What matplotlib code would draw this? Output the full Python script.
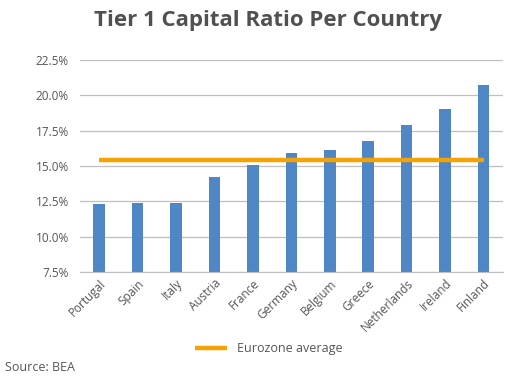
import matplotlib
matplotlib.use("Agg")
import matplotlib.pyplot as plt
from matplotlib.ticker import FuncFormatter

plt.rcParams['font.family'] = ['Open Sans', 'DejaVu Sans']

countries = ['Portugal', 'Spain', 'Italy', 'Austria', 'France', 'Germany',
             'Belgium', 'Greece', 'Netherlands', 'Ireland', 'Finland']
tier1 = [12.3, 12.4, 12.4, 14.2, 15.05, 15.9, 16.1, 16.75, 17.9, 19.05, 20.75]
eurozone_avg = 15.45
yticks = [7.5, 10.0, 12.5, 15.0, 17.5, 20.0, 22.5]

fig = plt.figure(figsize=(5.12, 3.81), dpi=100)
ax = fig.add_axes([0.156, 0.286, 0.826, 0.557])

x = list(range(len(countries)))
ax.bar(x, [v - 7.5 for v in tier1], bottom=7.5, width=0.3, color='#4F86C6', zorder=2)
ax.plot([x[0], x[-1]], [eurozone_avg, eurozone_avg], color='#F5A300', lw=3.2,
        solid_capstyle='butt', zorder=3, label='Eurozone average')

ax.set_ylim(7.5, 22.5)
ax.set_xlim(-0.5, len(countries) - 0.5)
ax.set_yticks(yticks)
ax.yaxis.set_major_formatter(FuncFormatter(lambda v, p: f'{v:.1f}%'))
ax.grid(axis='y', color='#BFBFBF', lw=0.9, zorder=0)
for s in ['top', 'right', 'left']:
    ax.spines[s].set_visible(False)
ax.spines['bottom'].set_color('#BFBFBF')
ax.tick_params(length=0, colors='#555555', labelsize=8.5)
ax.tick_params(axis='y', pad=8)
ax.set_xticks(x)
ax.set_xticklabels(countries, rotation=45, ha='right', rotation_mode='anchor')

fig.text(0.523, 0.945, 'Tier 1 Capital Ratio Per Country', ha='center', va='center',
         fontsize=16, fontweight='bold', color='#505050')
leg = fig.legend(loc='center', bbox_to_anchor=(0.525, 0.085), frameon=False,
                 fontsize=9, handlelength=2.6)
for t in leg.get_texts():
    t.set_color('#555555')
fig.text(0.01, 0.035, 'Source: BEA', ha='left', va='center', fontsize=9, color='#555555')

fig.savefig('out.png', dpi=100, facecolor='white')
